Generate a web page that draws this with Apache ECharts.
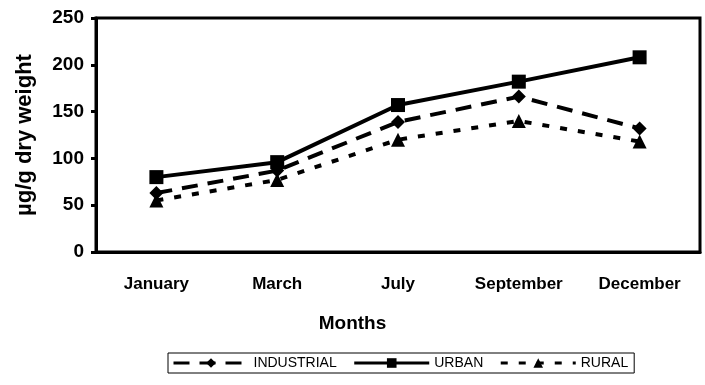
<!DOCTYPE html>
<html><head><meta charset="utf-8">
<script src="https://cdn.jsdelivr.net/npm/echarts@6/dist/echarts.min.js"></script>
<style>html,body{margin:0;padding:0;background:#fff}#c{width:705px;height:385px}</style>
</head><body><div id="c"></div>
<script>
const months = ['January', 'March', 'July', 'September', 'December'];
const industrial = [63, 87, 139, 166, 132];
const urban = [80, 96, 157, 182, 208];
const rural = [55, 77, 120, 140, 118];
const yTicks = [0, 50, 100, 150, 200, 250];

const chart = echarts.init(document.getElementById('c'));
const font = 'Liberation Sans, Arial, sans-serif';
chart.setOption({
  animation: false,
  title: { text: 'Months', left: 'center', top: 309,
    textStyle: { fontFamily: font, fontWeight: 'bold', fontSize: 19, color: '#000' } },
  grid: { left: 96, right: 5, top: 18, bottom: 133, show: true, borderColor: '#000', borderWidth: 3 },
  legend: {
    left: 168, top: 353, width: 470,
    itemWidth: 75, itemHeight: 12, itemGap: 16,
    padding: [3, 6, 3, 4],
    borderColor: '#000', borderWidth: 1,
    lineStyle: { width: 3 },
    textStyle: { fontFamily: font, fontSize: 14, color: '#000' },
    data: ['INDUSTRIAL', 'URBAN', 'RURAL']
  },
  xAxis: {
    type: 'category', data: months, boundaryGap: true,
    axisLine: { lineStyle: { color: '#000', width: 3 } },
    axisTick: { length: 5, lineStyle: { width: 3, color: '#000' } },
    axisLabel: { margin: 24, fontFamily: font, fontWeight: 'bold', fontSize: 17, color: '#000' }
  },
  yAxis: {
    type: 'value', min: yTicks[0], max: yTicks[yTicks.length - 1], interval: 50,
    name: 'µg/g dry weight', nameLocation: 'middle', nameGap: 60,
    nameTextStyle: { fontFamily: font, fontWeight: 'bold', fontSize: 22, color: '#000' },
    axisLine: { show: true, lineStyle: { color: '#000', width: 3 } },
    axisTick: { show: true, length: 5, lineStyle: { width: 3, color: '#000' } },
    splitLine: { show: false },
    axisLabel: { margin: 12, fontFamily: font, fontWeight: 'bold', fontSize: 19, color: '#000' }
  },
  series: [
    { name: 'INDUSTRIAL', type: 'line', data: industrial, symbol: 'diamond', symbolSize: 14,
      itemStyle: { color: '#000' }, lineStyle: { color: '#000', width: 4, type: [16, 10] } },
    { name: 'URBAN', type: 'line', data: urban, symbol: 'rect', symbolSize: 14,
      itemStyle: { color: '#000' }, lineStyle: { color: '#000', width: 4, type: 'solid' } },
    { name: 'RURAL', type: 'line', data: rural, symbol: 'triangle', symbolSize: 14,
      itemStyle: { color: '#000' }, lineStyle: { color: '#000', width: 4, type: [7, 11] } }
  ]
});
</script></body></html>
